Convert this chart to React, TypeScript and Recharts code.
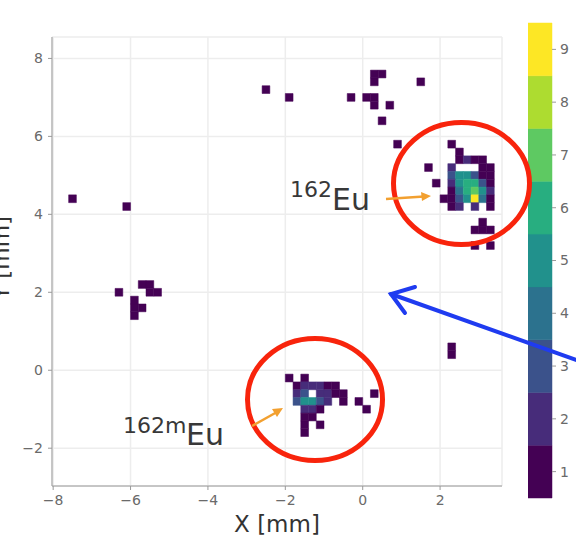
import React from "react";
import { ScatterChart, Scatter, XAxis, YAxis, CartesianGrid, ReferenceArea } from "recharts";

// 2D histogram of hit positions, 0.2 mm bins, values are counts per bin
const BIN = 0.2;

const X_TICKS = [-8, -6, -4, -2, 0, 2];
const Y_TICKS = [-2, 0, 2, 4, 6, 8];
const LEVELS = [1, 2, 3, 4, 5, 6, 7, 8, 9];

// discrete viridis, one colour per count level
const VIRIDIS = ["#440154", "#472c7a", "#3b528b", "#2c728e", "#21918c", "#28ae80", "#5ec962", "#addc30", "#fde725"];

// [x, y, count]
const strayCells = [
  [-7.5, 4.4, 1], [-6.1, 4.2, 1], [2.3, 0.6, 1], [2.3, 0.4, 1],
];

const leftCells = [
  [-6.3, 2.0, 1], [-5.7, 2.2, 1], [-5.5, 2.2, 1], [-5.5, 2.0, 1], [-5.3, 2.0, 1],
  [-5.9, 1.8, 1], [-5.9, 1.6, 1], [-5.7, 1.6, 1], [-5.9, 1.4, 1],
];

const topCells = [
  [-2.5, 7.2, 1], [-1.9, 7.0, 1], [-0.3, 7.0, 1], [0.1, 7.0, 1], [0.3, 7.0, 1],
  [0.3, 6.8, 1], [0.7, 6.8, 1], [0.5, 6.4, 1], [0.3, 7.6, 1], [0.5, 7.6, 1],
  [0.3, 7.4, 1], [1.5, 7.4, 1], [0.9, 5.8, 1],
];

const eu162Cells = [
  [2.3, 5.8, 1],
  [2.5, 5.6, 1],
  [2.5, 5.4, 1], [2.7, 5.4, 2], [2.9, 5.4, 1], [3.1, 5.4, 1],
  [1.7, 5.2, 1], [2.3, 5.2, 2], [3.1, 5.2, 1], [3.3, 5.2, 1],
  [2.3, 5.0, 3], [2.5, 5.0, 5], [2.7, 5.0, 5], [2.9, 5.0, 3], [3.1, 5.0, 1], [3.3, 5.0, 1],
  [1.9, 4.8, 1], [2.3, 4.8, 2], [2.5, 4.8, 5], [2.7, 4.8, 6], [2.9, 4.8, 6], [3.1, 4.8, 3], [3.3, 4.8, 1],
  [2.3, 4.6, 1], [2.5, 4.6, 4], [2.7, 4.6, 6], [2.9, 4.6, 7], [3.1, 4.6, 5], [3.3, 4.6, 2],
  [2.1, 4.4, 1], [2.3, 4.4, 1], [2.5, 4.4, 3], [2.7, 4.4, 5], [2.9, 4.4, 9], [3.1, 4.4, 4], [3.3, 4.4, 1],
  [2.3, 4.2, 1], [2.5, 4.2, 2], [2.9, 4.2, 2], [3.3, 4.2, 1],
  [3.1, 3.8, 1],
  [2.9, 3.6, 1], [3.1, 3.6, 1], [3.3, 3.6, 1],
  [2.9, 3.2, 1], [3.3, 3.2, 1],
];

const eu162mCells = [
  [-1.9, -0.2, 1], [-1.5, -0.2, 1],
  [-1.7, -0.4, 1], [-1.5, -0.4, 2], [-1.3, -0.4, 2], [-1.1, -0.4, 2], [-0.9, -0.4, 1], [-0.7, -0.4, 1],
  [-1.7, -0.6, 2], [-1.5, -0.6, 3], [-1.1, -0.6, 2], [-0.9, -0.6, 2], [-0.7, -0.6, 1], [-0.5, -0.6, 1], [0.3, -0.6, 1],
  [-1.7, -0.8, 3], [-1.5, -0.8, 5], [-1.3, -0.8, 5], [-1.1, -0.8, 3], [-0.9, -0.8, 2], [-0.5, -0.8, 1], [-0.1, -0.8, 1],
  [-1.5, -1.0, 2], [-1.3, -1.0, 2], [-1.1, -1.0, 1], [0.1, -1.0, 1],
  [-1.5, -1.2, 1], [-1.3, -1.2, 1],
  [-1.5, -1.4, 1], [-1.1, -1.4, 1],
  [-1.5, -1.6, 1],
];

const cells = [...strayCells, ...leftCells, ...topCells, ...eu162Cells, ...eu162mCells].map(([x, y, count]) => ({ x, y, count }));
const levelPoints = LEVELS.map((v) => ({ x: 0.5, y: v }));

const FONT = "DejaVu Sans, sans-serif";
const fmt = (v: number) => String(v).replace("-", "\u2212");
const tickStyle = { fill: "#6a6a6a", fontSize: 14, fontFamily: FONT };

const Empty = () => <g />;

function Annotations() {
  return (
    <svg width={576} height={542} style={{ position: "absolute", left: 0, top: 0, pointerEvents: "none" }}>
      <text transform="translate(9,258) rotate(-90)" textAnchor="middle" fontSize={23} fill="#333" fontFamily={FONT}>
        Y [mm]
      </text>
      <ellipse cx={461.5} cy={183.5} rx={68} ry={61} fill="none" stroke="#f8240c" strokeWidth={5} />
      <ellipse cx={315} cy={399.5} rx={67.5} ry={61} fill="none" stroke="#f8240c" strokeWidth={5} />
      <g stroke="#1f3bf0" strokeWidth={4} strokeLinecap="round" fill="none">
        <line x1={391} y1={294} x2={585} y2={363} />
        <polyline points="415,287 391,294 405,313" />
      </g>
      <g stroke="#f2a030" strokeWidth={2.5} fill="#f2a030">
        <line x1={386} y1={199} x2={424} y2={196.5} />
        <polygon points="431,196 421,192 422,201" stroke="none" />
        <line x1={252} y1={426} x2={277} y2={412} />
        <polygon points="283,408 272,409 277,417" stroke="none" />
      </g>
      <g fill="#383838" fontFamily={FONT}>
        <text x={290} y={197} fontSize={22}>162</text>
        <text x={332} y={210} fontSize={30}>Eu</text>
        <text x={123} y={433} fontSize={22}>162m</text>
        <text x={186} y={445} fontSize={30}>Eu</text>
      </g>
    </svg>
  );
}

export default function App() {
  return (
    <div style={{ position: "absolute", left: 0, top: 0, width: 576, height: 542, background: "#fff" }}>
      <ScatterChart width={576} height={542} margin={{ top: 37, right: 74, bottom: 0, left: 0 }}>
        <CartesianGrid stroke="#ededed" strokeWidth={1.5} />
        <XAxis
          type="number"
          dataKey="x"
          domain={[-8.03, 3.6]}
          ticks={X_TICKS}
          allowDataOverflow
          height={56}
          stroke="#9a9a9a"
          tickSize={4}
          tickMargin={5}
          tick={tickStyle}
          tickFormatter={fmt}
          label={{ value: "X [mm]", position: "insideBottom", offset: 10, fontSize: 23, fill: "#333", fontFamily: FONT }}
        />
        <YAxis
          type="number"
          dataKey="y"
          domain={[-2.97, 8.55]}
          ticks={Y_TICKS}
          allowDataOverflow
          width={52}
          stroke="#9a9a9a"
          tickSize={4}
          tickMargin={5}
          tick={tickStyle}
          tickFormatter={fmt}
        />
        {cells.map((c, i) => (
          <ReferenceArea
            key={`cell-${i}`}
            x1={c.x - BIN / 2}
            x2={c.x + BIN / 2}
            y1={c.y - BIN / 2}
            y2={c.y + BIN / 2}
            fill={VIRIDIS[c.count - 1]}
            stroke={VIRIDIS[c.count - 1]}
            strokeWidth={0.5}
            fillOpacity={1}
          />
        ))}
        <Scatter data={cells} shape={Empty} isAnimationActive={false} />
      </ScatterChart>

      <div style={{ position: "absolute", left: 528, top: 0 }}>
        <ScatterChart width={60} height={542} margin={{ top: 23, right: 0, bottom: 44, left: 0 }}>
          <XAxis type="number" dataKey="x" domain={[0, 1]} hide />
          <YAxis
            type="number"
            dataKey="y"
            orientation="right"
            domain={[0.5, 9.5]}
            ticks={LEVELS}
            allowDataOverflow
            width={36}
            axisLine={false}
            tickLine={{ stroke: "#9a9a9a" }}
            tickSize={4}
            tickMargin={4}
            tick={tickStyle}
          />
          {LEVELS.map((v, i) => (
            <ReferenceArea
              key={`level-${v}`}
              x1={0}
              x2={1}
              y1={v - 0.5}
              y2={v + 0.5}
              fill={VIRIDIS[i]}
              stroke={VIRIDIS[i]}
              strokeWidth={0.5}
              fillOpacity={1}
            />
          ))}
          <Scatter data={levelPoints} shape={Empty} isAnimationActive={false} />
        </ScatterChart>
      </div>

      <Annotations />
    </div>
  );
}
